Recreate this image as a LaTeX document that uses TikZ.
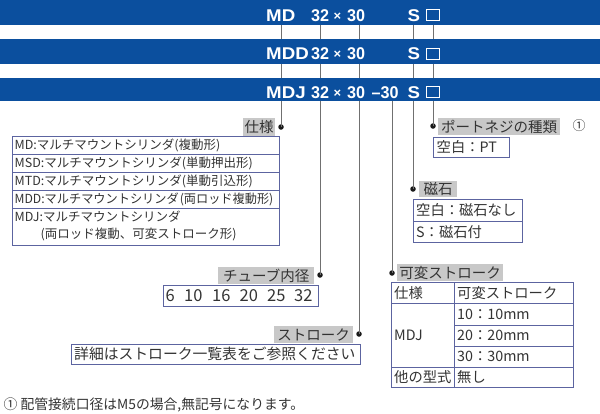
\documentclass[tikz,border=0pt]{standalone}
\usepackage{fontspec}
\setmainfont{Liberation Sans}
\newfontfamily\jp{Noto Sans CJK JP}
\definecolor{barblue}{HTML}{0B4F9E}
\definecolor{lblgray}{HTML}{C8C8C8}
\definecolor{txtgray}{HTML}{333333}
\definecolor{tblblue}{HTML}{5C64A0}
\definecolor{leadgray}{HTML}{707070}
\definecolor{dotblack}{HTML}{1A1A1A}
\tikzset{
  bar/.style={fill=barblue, draw=none},
  bartxt/.style={text=white, font=\fontsize{17}{17}\selectfont\bfseries, inner sep=0, anchor=base west},
  barltr/.style={bartxt, xscale=1.1},
  bardig/.style={bartxt, xscale=0.95},
  barx/.style={bartxt, anchor=base, font=\fontsize{13}{13}\selectfont\bfseries},
  barbox/.style={draw=white, line width=0.8pt},
  lead/.style={draw=leadgray, line width=0.9pt},
  leaddot/.style={circle, fill=dotblack, inner sep=0, minimum size=5.5pt},
  lbl/.style={fill=lblgray, text=txtgray, font=\jp\fontsize{14.5}{15}\selectfont, inner sep=0, anchor=north west},
  tbl/.style={draw=tblblue, line width=0.8pt},
  ttxt/.style={text=txtgray, font=\jp\fontsize{14.3}{15}\selectfont, inner sep=0, anchor=west},
  dtxt/.style={text=txtgray, font=\jp\fontsize{16.5}{17}\selectfont, inner sep=0, anchor=west},
  stxt/.style={text=txtgray, font=\jp\fontsize{12.5}{13}\selectfont, inner sep=0, anchor=west},
}
\begin{document}
\begin{tikzpicture}[x=1pt,y=-1pt]
\useasboundingbox (0,0) rectangle (600,413);
\fill[white] (0,0) rectangle (600,413);
% lead line tops
\coordinate (t1) at (281,25);
\coordinate (t2) at (320,25);
\coordinate (t3) at (359,25);
\coordinate (t4) at (392,101);
\coordinate (t5) at (413,25);
\coordinate (t6) at (433,25);
% dots
\node[leaddot] (d1) at (281,127) {};
\node[leaddot] (d2) at (320,275) {};
\node[leaddot] (d3) at (359,334) {};
\node[leaddot] (d4) at (392,273) {};
\node[leaddot] (d5) at (413,189) {};
\node[leaddot] (d6) at (433,126) {};
\draw[lead] (t1) -- (d1.center);
\draw[lead] (t2) -- (d2.center);
\draw[lead] (t3) -- (d3.center);
\draw[lead] (t4) -- (d4.center);
\draw[lead] (t5) -- (d5.center);
\draw[lead] (t6) -- (d6.center);
% bars
\fill[bar] (0,0) rectangle (600,25);
\fill[bar] (0,39.3) rectangle (600,64);
\fill[bar] (0,78.3) rectangle (600,101);
% bar 1
\node[barltr] (b1a) at (266,21) {MD};
\node[bardig] (b1b) at (311,21) {32};
\node[barx] (b1c) at (337.5,20) {×};
\node[bardig] (b1d) at (347,21) {30};
\node[barltr] (b1e) at (407.5,21) {S};
\draw[barbox] (426.5,9.5) rectangle (439.5,20.7);
% bar 2
\node[barltr] (b2a) at (266,59.5) {MDD};
\node[bardig] (b2b) at (311,59.5) {32};
\node[barx] (b2c) at (337.5,58.5) {×};
\node[bardig] (b2d) at (347,59.5) {30};
\node[barltr] (b2e) at (407.5,59.5) {S};
\draw[barbox] (426.5,48) rectangle (439.5,59.3);
% bar 3
\node[barltr] (b3a) at (266,98) {MDJ};
\node[bardig] (b3b) at (311,98) {32};
\node[barx] (b3c) at (337.5,97) {×};
\node[bardig] (b3d) at (347,98) {30};
\node[bardig] (b3f) at (371.5,98) {–30};
\node[barltr] (b3e) at (407.5,98) {S};
\draw[barbox] (426.5,86.5) rectangle (439.5,97.8);
% labels
\node[lbl, minimum width=32pt, minimum height=18pt] (l1) at (243,118) {仕様};
\node[lbl, minimum width=122pt, minimum height=17pt] (l6) at (438,118) {ポートネジの種類};
\node[text=txtgray, font=\jp\fontsize{13}{13}\selectfont, inner sep=0] (fn1) at (579,126) {①};
\node[lbl, minimum width=38pt, minimum height=16pt] (l5) at (419,181) {磁石};
\node[lbl, minimum width=106pt, minimum height=17pt] (l4) at (397,264) {可変ストローク};
\node[lbl, minimum width=96pt, minimum height=17pt] (l2) at (218,267) {チューブ内径};
\node[lbl, minimum width=79pt, minimum height=17pt] (l3) at (274,326) {ストローク};
% spec table
\draw[tbl] (12,136.5) rectangle (279,245);
\foreach \y in {154,172,190,208} \draw[tbl] (12,\y) -- (279,\y);
\node[stxt] (s1) at (14.5,145.5) {MD:マルチマウントシリンダ(複動形)};
\node[stxt] (s2) at (14.5,163.3) {MSD:マルチマウントシリンダ(単動押出形)};
\node[stxt] (s3) at (14.5,181.3) {MTD:マルチマウントシリンダ(単動引込形)};
\node[stxt, xscale=0.975] (s4) at (14.5,199.3) {MDD:マルチマウントシリンダ\hspace{1pt}(両ロッド複動形)};
\node[stxt] (s5) at (14.5,217) {MDJ:マルチマウントシリンダ};
\node[stxt] (s6) at (40.5,234) {(両ロッド複動、可変ストローク形)};
% port table
\draw[tbl] (433,137) rectangle (509,157);
\node[ttxt] (p1) at (436.5,147.3) {空白：PT};
% magnet table
\draw[tbl] (413,199) rectangle (522,242);
\draw[tbl] (413,221) -- (522,221);
\node[ttxt] (m1) at (416,210.3) {空白：磁石なし};
\node[ttxt] (m2) at (416,231.8) {S：磁石付};
% variable stroke table
\draw[tbl] (391,282) rectangle (573,387);
\draw[tbl] (454,282) -- (454,387);
\draw[tbl] (391,303) -- (573,303);
\draw[tbl] (454,325) -- (573,325);
\draw[tbl] (454,346) -- (573,346);
\draw[tbl] (391,367) -- (573,367);
\node[ttxt] (v1) at (394,292.8) {仕様};
\node[ttxt] (v2) at (457,292.8) {可変ストローク};
\node[ttxt] (v3) at (394,335.3) {MDJ};
\node[ttxt] (v4) at (457,314.3) {10：10mm};
\node[ttxt] (v5) at (457,335.8) {20：20mm};
\node[ttxt] (v6) at (457,356.8) {30：30mm};
\node[ttxt] (v7) at (394,377.3) {他の型式};
\node[ttxt] (v8) at (457,377.3) {無し};
% tube table
\draw[tbl] (163,285) rectangle (318.5,306.5);
\node[dtxt] (u1) at (165.5,296) {6};
\node[dtxt] (u2) at (184,296) {10};
\node[dtxt] (u3) at (212,296) {16};
\node[dtxt] (u4) at (239.5,296) {20};
\node[dtxt] (u5) at (267,296) {25};
\node[dtxt] (u6) at (294,296) {32};
% stroke table
\draw[tbl] (71,344) rectangle (360,364);
\node[ttxt, font=\jp\fontsize{14.8}{15}\selectfont] (k1) at (74,354.3) {詳細はストローク一覧表をご参照ください};
% footnote
\node[text=txtgray, font=\jp\fontsize{13.8}{14}\selectfont, inner sep=0, anchor=west] (note) at (3.5,404.5) {① 配管接続口径はM5の場合,無記号になります。};
\end{tikzpicture}
\end{document}
